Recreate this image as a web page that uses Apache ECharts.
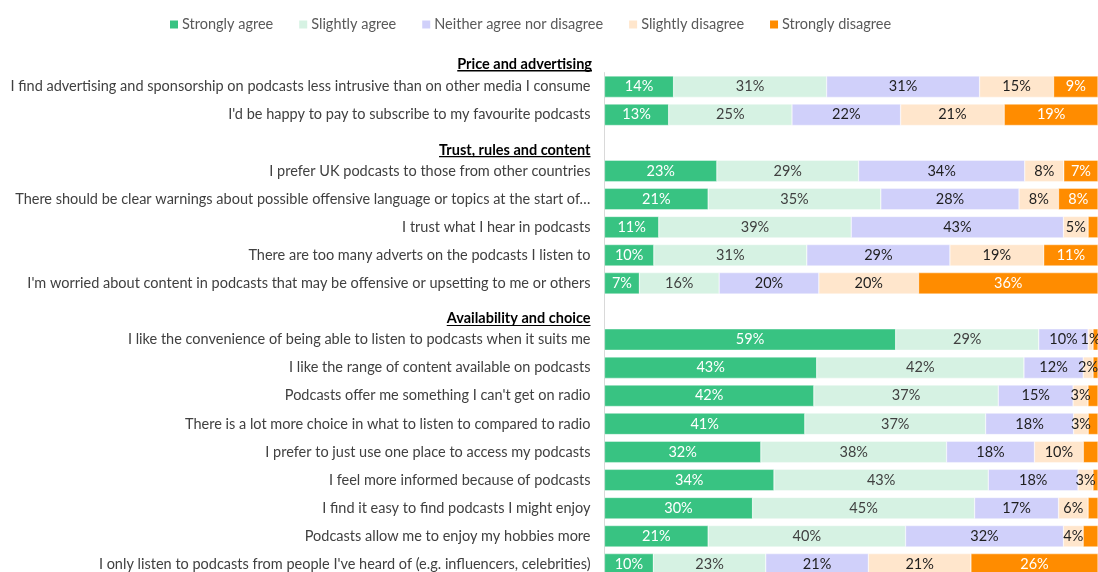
<!DOCTYPE html>
<html>
<head>
<meta charset="utf-8">
<title>Attitudes to podcasts</title>
<script src="https://cdn.jsdelivr.net/npm/echarts@6/dist/echarts.min.js"></script>
<style>
  html, body { margin: 0; padding: 0; background: #ffffff; overflow: hidden; }
  /* the last row runs a few pixels past the bottom of the view */
  #chart { width: 1098px; height: 580px; }
</style>
</head>
<body>
<div id="chart"></div>
<script>
// Section headings: the first sits above the bars, the others take an empty row
const firstSection = 'Price and advertising';
const sectionHeaders = ['Trust, rules and content', 'Availability and choice'];

// Row labels, top to bottom
const statements = [
  'I find advertising and sponsorship on podcasts less intrusive than on other media I consume',
  "I'd be happy to pay to subscribe to my favourite podcasts",
  'Trust, rules and content',
  'I prefer UK podcasts to those from other countries',
  'There should be clear warnings about possible offensive language or topics at the start of\u2026',
  'I trust what I hear in podcasts',
  'There are too many adverts on the podcasts I listen to',
  "I'm worried about content in podcasts that may be offensive or upsetting to me or others",
  'Availability and choice',
  'I like the convenience of being able to listen to podcasts when it suits me',
  'I like the range of content available on podcasts',
  "Podcasts offer me something I can't get on radio",
  'There is a lot more choice in what to listen to compared to radio',
  'I prefer to just use one place to access my podcasts',
  'I feel more informed because of podcasts',
  'I find it easy to find podcasts I might enjoy',
  'Podcasts allow me to enjoy my hobbies more',
  "I only listen to podcasts from people I've heard of (e.g. influencers, celebrities)"
];

const seriesNames = ['Strongly agree', 'Slightly agree', 'Neither agree nor disagree', 'Slightly disagree', 'Strongly disagree'];

// Percentages per answer (null = heading row)
const stronglyAgree    = [14, 13, null, 23, 21, 11, 10,  7, null, 59, 43, 42, 41, 32, 34, 30, 21, 10];
const slightlyAgree    = [31, 25, null, 29, 35, 39, 31, 16, null, 29, 42, 37, 37, 38, 43, 45, 40, 23];
const neither          = [31, 22, null, 34, 28, 43, 29, 20, null, 10, 12, 15, 18, 18, 18, 17, 32, 21];
const slightlyDisagree = [15, 21, null,  8,  8,  5, 19, 20, null,  1,  2,  3,  3, 10,  3,  6,  4, 21];
const stronglyDisagree = [ 9, 19, null,  7,  8,  2, 11, 36, null,  1,  1,  2,  2,  3,  1,  2,  3, 26];

const seriesValues = [stronglyAgree, slightlyAgree, neither, slightlyDisagree, stronglyDisagree];
const seriesColors = ['#38c382', '#d6f2e3', '#d0d0fa', '#ffe6cc', '#ff8c00'];
const labelColors  = ['#ffffff', '#404040', '#1e1e1e', '#1e1e1e', '#ffffff'];
// smallest value that still gets a printed label, per answer
const labelMinimum = [0, 0, 0, 0, 5];

// Each bar is stacked to 100%: shares are relative to the row total
const rowTotals = statements.map((_, i) =>
  seriesValues.reduce((s, arr) => s + (arr[i] == null ? 0 : arr[i]), 0));

const FONT = 'Lato, "Liberation Sans", sans-serif';
const FS = 14.5;

// Underline drawn as the bottom edge of the text box background
const underline = new echarts.graphic.LinearGradient(0, 0, 0, 1, [
  { offset: 0, color: 'rgba(0,0,0,0)' },
  { offset: 0.955, color: 'rgba(0,0,0,0)' },
  { offset: 0.955, color: '#000000' },
  { offset: 1, color: '#000000' }
]);
const headerStyle = {
  fontFamily: FONT, fontSize: FS, fontWeight: 'bold', color: '#000000',
  lineHeight: 14, padding: [14, 0, 0, 0], backgroundColor: underline
};

const chart = echarts.init(document.getElementById('chart'));

chart.setOption({
  animation: false,
  backgroundColor: '#ffffff',
  title: {
    text: '{h|' + firstSection + '}',
    right: 506,
    top: 50,
    padding: 0,
    textStyle: { rich: { h: headerStyle } }
  },
  legend: {
    data: seriesNames,
    left: 168,
    top: 17,
    padding: 0,
    icon: 'rect',
    itemWidth: 10,
    itemHeight: 10,
    itemGap: 24,
    textStyle: { fontFamily: FONT, fontSize: FS, color: '#595959', padding: [0, 0, 0, -2] }
  },
  grid: { left: 604.5, right: 0, top: 72.6, bottom: 1.6 },
  xAxis: { type: 'value', min: 0, max: 100, show: false },
  yAxis: {
    type: 'category',
    inverse: true,
    data: statements,
    axisLine: { show: true, lineStyle: { color: '#d9d9d9', width: 1 } },
    axisTick: { show: false },
    splitLine: { show: false },
    axisLabel: {
      margin: 14,
      fontFamily: FONT,
      fontSize: FS,
      color: '#404040',
      formatter: v => sectionHeaders.includes(v) ? '{h|' + v + '}' : v,
      rich: { h: headerStyle }
    }
  },
  series: seriesValues.map((arr, s) => ({
    name: seriesNames[s],
    type: 'bar',
    stack: 'total',
    barCategoryGap: '24%',
    itemStyle: { color: seriesColors[s], borderColor: '#ffffff', borderWidth: 0.4 },
    label: {
      show: true,
      position: 'inside',
      fontFamily: FONT,
      fontSize: FS,
      color: labelColors[s],
      formatter: p => p.data && p.data.raw != null ? p.data.raw + '%' : ''
    },
    data: arr.map((v, i) => v == null ? null : {
      value: v / rowTotals[i] * 100,
      raw: v,
      label: { show: v >= labelMinimum[s] }
    })
  }))
});
</script>
</body>
</html>
